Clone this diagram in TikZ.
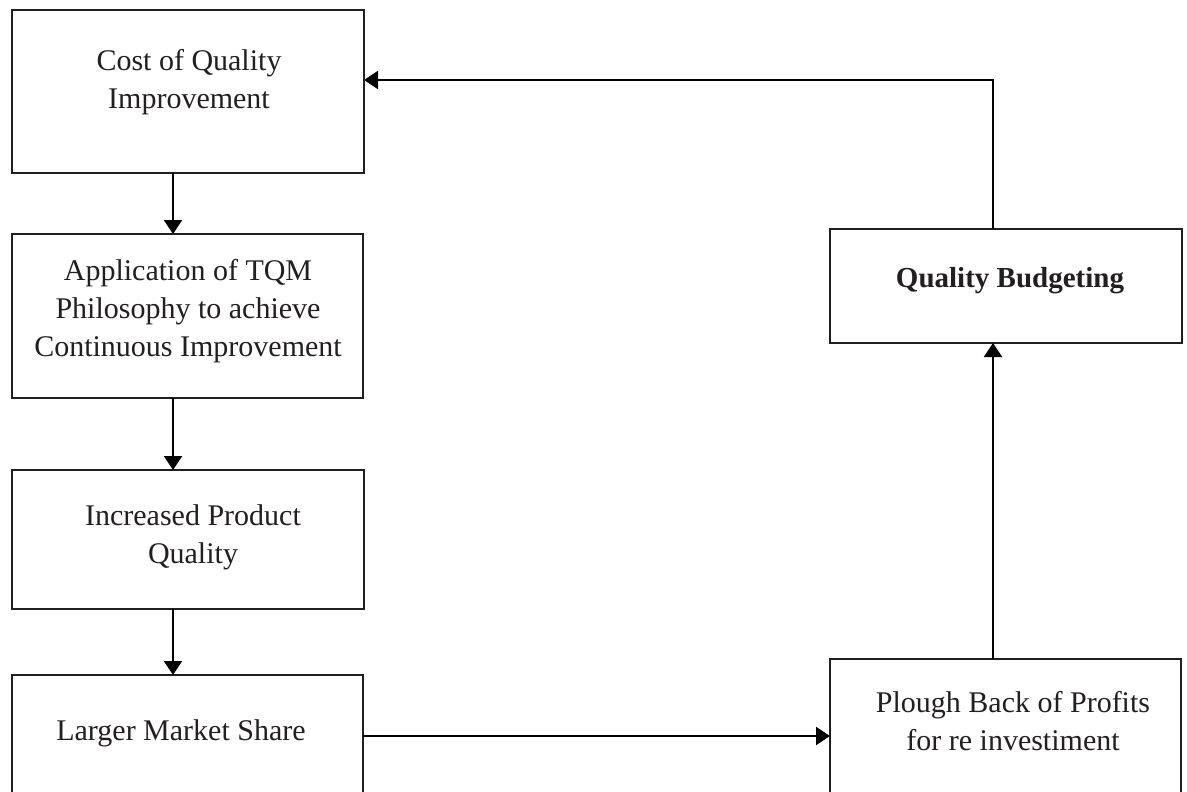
\documentclass[tikz,border=0pt]{standalone}
\usepackage{fontspec}
\setmainfont{Liberation Serif}
\usetikzlibrary{arrows.meta}
\definecolor{ink}{RGB}{35,31,32}
\begin{document}
\begin{tikzpicture}[x=1pt,y=-1pt,
  box/.style={draw=ink,line width=2.6pt,rectangle,inner sep=0pt,outer sep=0pt},
  txt/.style={align=center,text=ink,inner sep=0pt,font=\fontsize{30}{38}\selectfont},
  arr/.style={draw=black,line width=2pt,-{Triangle[width=18pt,length=14pt]}},
  ln/.style={draw=black,line width=2pt}]
\clip (0,0) rectangle (1187,792);
\fill[white] (0,0) rectangle (1187,792);
% boxes
\node[box,minimum width=352pt,minimum height=163pt] (b1) at (188,91.5) {};
\node[box,minimum width=351pt,minimum height=164pt] (b2) at (187.5,316) {};
\node[box,minimum width=352pt,minimum height=139pt] (b3) at (188,539.5) {};
\node[box,minimum width=351pt,minimum height=155pt] (b4) at (187.5,752.5) {};
\node[box,minimum width=352pt,minimum height=114pt] (b5) at (1006,286) {};
\node[box,minimum width=351pt,minimum height=171pt] (b6) at (1005.5,744.5) {};
% texts
\node[txt] (t1) at (189,82) {Cost of Quality\\Improvement};
\node[txt] (t2) at (188,311) {Application of TQM\\Philosophy to achieve\\Continuous Improvement};
\node[txt] (t3) at (193,537) {Increased Product\\Quality};
\node[txt] (t4) at (181,733) {Larger Market Share};
\node[txt,font=\fontsize{29}{38}\selectfont\bfseries] (t5) at (1010,281) {Quality Budgeting};
\node[txt] (t6) at (1013,721) {Plough Back of Profits\\for re investiment};
% helper coordinates
\coordinate (ax) at (173,0);
\coordinate (rx) at (993,0);
\coordinate (hy) at (0,736);
\coordinate (top) at (993,80);
% connectors
\draw[arr] (b1.south -| ax) -- (b2.north -| ax);
\draw[arr] (b2.south -| ax) -- (b3.north -| ax);
\draw[arr] (b3.south -| ax) -- (b4.north -| ax);
\draw[arr] (b4.east |- hy) -- (b6.west |- hy);
\draw[arr] (b6.north -| rx) -- (b5.south -| rx);
\draw[arr] (b5.north -| rx) -- (top) -- (b1.east |- top);
\end{tikzpicture}
\end{document}
